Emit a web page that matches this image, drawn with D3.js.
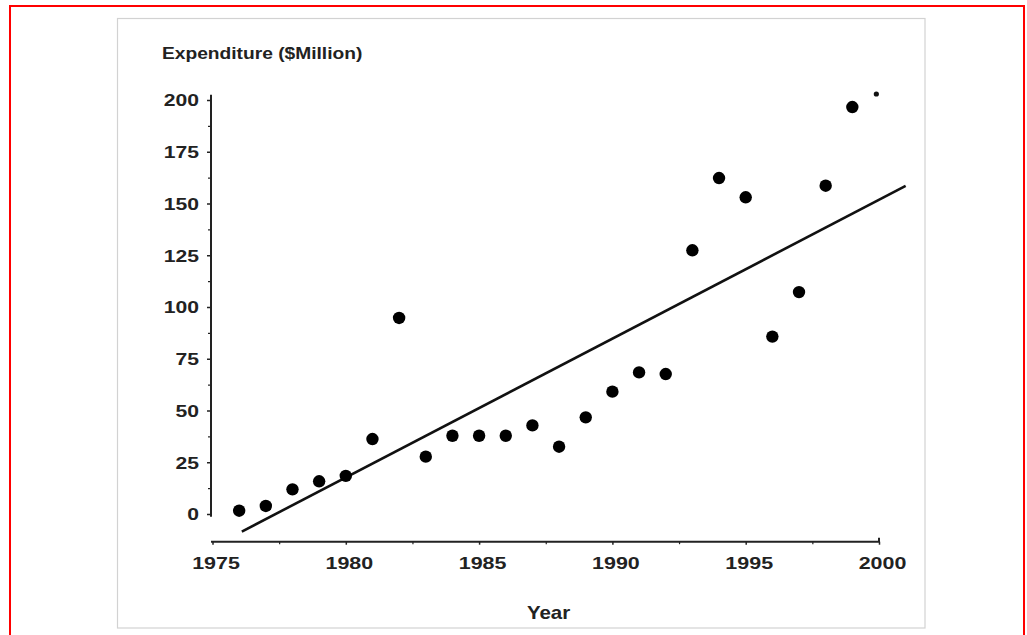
<!DOCTYPE html>
<html lang="en">
<head>
<meta charset="UTF-8">
<script src="https://cdn.jsdelivr.net/npm/d3@7/dist/d3.min.js"></script>
<style>
  body { margin: 0; background: #fff; }
  svg { display: block; font-family: "Liberation Sans", Arial, sans-serif; }
  .tick text { font-size: 16.5px; font-weight: bold; fill: #222; }
</style>
</head>
<body>
<svg></svg>
<script>
var years = [1976, 1977, 1978, 1979, 1980, 1981, 1982, 1983, 1984, 1985, 1986, 1987,
             1988, 1989, 1990, 1991, 1992, 1993, 1994, 1995, 1996, 1997, 1998, 1999];
var expenditure = [1.6, 3.9, 11.9, 15.8, 18.4, 36.2, 94.7, 27.7, 37.8, 37.8, 37.8, 42.8,
                   32.5, 46.7, 59.1, 68.4, 67.6, 127.4, 162.3, 153, 85.7, 107.2, 158.6, 196.6];
// little speck near the top right corner
var speckYears = [1999.9];
var speckValues = [202.9];
// fitted trend line endpoints
var trendYears = [1976.1, 2001.0];
var trendValues = [-8.5, 158.5];
// axis ticks
var xTicks = [1975, 1980, 1985, 1990, 1995, 2000];
var xMinor = [1977.5, 1982.5, 1987.5, 1992.5, 1997.5];
var yTicks = [0, 25, 50, 75, 100, 125, 150, 175, 200];
var yMinor = [12.5, 37.5, 62.5, 87.5, 112.5, 137.5, 162.5, 187.5];

var W = 1027, H = 635;
var svg = d3.select("svg").attr("width", W).attr("height", H);

// outer red border (bottom runs off the page) and gray frame
svg.append("rect").attr("x", 10).attr("y", 6).attr("width", 1014).attr("height", 640)
  .attr("fill", "none").attr("stroke", "#f00").attr("stroke-width", 2);
svg.append("rect").attr("x", 117.5).attr("y", 18.5).attr("width", 807.5).attr("height", 609.5)
  .attr("fill", "none").attr("stroke", "#d2d2d2").attr("stroke-width", 1.2);

var x = d3.scaleLinear().domain([1975, 2000]).range([212.5, 879]);
var y = d3.scaleLinear().domain([0, 200]).range([514, 100]);
var xAxisY = 541.7, yAxisX = 211;

var ink = "#222";

// y axis
var yAxisG = svg.append("g").attr("transform", "translate(" + yAxisX + ",0)");
yAxisG.call(d3.axisLeft(y).tickValues(yTicks).tickSize(4).tickSizeOuter(0).tickPadding(0));
yAxisG.select(".domain").remove();
yAxisG.selectAll(".tick line").attr("stroke", ink).attr("stroke-width", 1.5);
yAxisG.selectAll(".tick text")
  .attr("x", 0).attr("dy", "0.36em")
  .attr("transform", "translate(-12,0) scale(1.28,1)");
var yMinorG = svg.append("g").attr("transform", "translate(" + yAxisX + ",0)");
yMinorG.call(d3.axisLeft(y).tickValues(yMinor).tickSize(3).tickFormat(""));
yMinorG.select(".domain").remove();
yMinorG.selectAll(".tick line").attr("stroke", ink).attr("stroke-width", 1.2);
svg.append("line")
  .attr("x1", yAxisX).attr("x2", yAxisX)
  .attr("y1", y(202.5)).attr("y2", y(-1.3))
  .attr("stroke", ink).attr("stroke-width", 2);

// x axis
var xAxisG = svg.append("g").attr("transform", "translate(0," + xAxisY + ")");
xAxisG.call(d3.axisBottom(x).tickValues(xTicks).tickFormat(d3.format("d")).tickSize(3).tickSizeOuter(0));
xAxisG.select(".domain").attr("stroke", ink).attr("stroke-width", 2)
  .attr("d", "M" + (x(1975) - 1.5) + ",0H" + x(2000) + "V-4");
xAxisG.selectAll(".tick line").attr("stroke", ink).attr("stroke-width", 1.5);
xAxisG.selectAll(".tick text")
  .attr("y", 0).attr("dy", 0)
  .attr("transform", "translate(3,27) scale(1.3,1)");
var xMinorG = svg.append("g").attr("transform", "translate(0," + xAxisY + ")");
xMinorG.call(d3.axisBottom(x).tickValues(xMinor).tickSize(2.5).tickFormat(""));
xMinorG.select(".domain").remove();
xMinorG.selectAll(".tick line").attr("stroke", ink).attr("stroke-width", 1.2);

// trend line
svg.append("path")
  .datum(d3.zip(trendYears, trendValues))
  .attr("d", d3.line().x(function(d) { return x(d[0]); }).y(function(d) { return y(d[1]); }))
  .attr("fill", "none").attr("stroke", "#111").attr("stroke-width", 2.6);

// dots
svg.append("g").selectAll("circle")
  .data(d3.zip(years, expenditure))
  .enter().append("circle")
  .attr("cx", function(d) { return x(d[0]); })
  .attr("cy", function(d) { return y(d[1]); })
  .attr("r", 6.2)
  .attr("fill", "#000");
svg.append("g").selectAll("circle")
  .data(d3.zip(speckYears, speckValues))
  .enter().append("circle")
  .attr("cx", function(d) { return x(d[0]); })
  .attr("cy", function(d) { return y(d[1]); })
  .attr("r", 2.6)
  .attr("fill", "#111");

// axis titles
svg.append("text")
  .attr("transform", "translate(162,59) scale(1.2,1)")
  .attr("font-size", 16).attr("font-weight", "bold").attr("fill", "#222")
  .text("Expenditure ($Million)");
svg.append("text")
  .attr("transform", "translate(548.5,619) scale(1.17,1)")
  .attr("text-anchor", "middle")
  .attr("font-size", 17.5).attr("font-weight", "bold").attr("fill", "#222")
  .text("Year");
</script>
</body>
</html>
